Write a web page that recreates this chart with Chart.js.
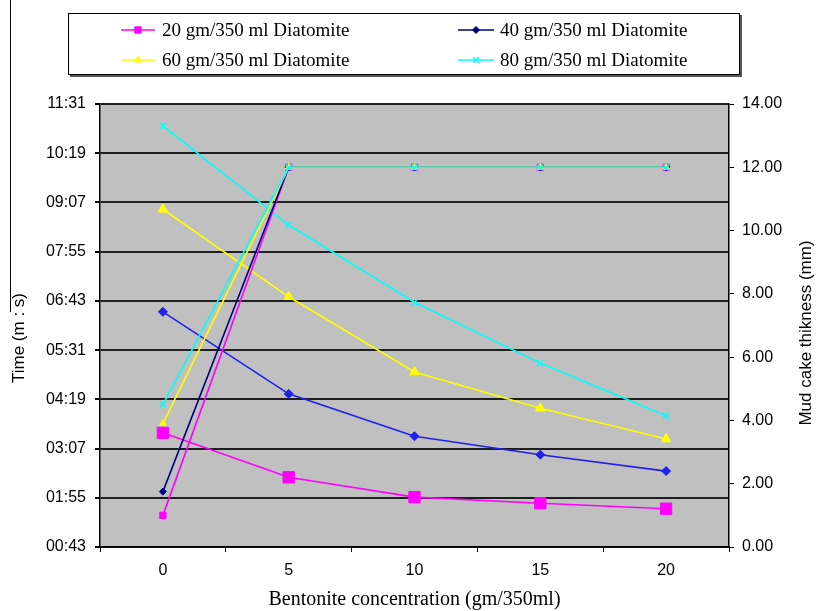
<!DOCTYPE html>
<html lang="en">
<head>
  <meta charset="UTF-8" />
  <title>Filtration time and mud cake thickness</title>
  <script src="https://cdn.jsdelivr.net/npm/chart.js"></script>
  <style>
    body { margin: 0; background: #ffffff; }
    #wrap { position: relative; width: 817px; height: 611px; }
  </style>
</head>
<body>
  <div id="wrap"><canvas id="chart" width="817" height="611"></canvas></div>

  <script>
    const concentrations = ['0', '5', '10', '15', '20'];
    const seriesNames = [
      '20 gm/350 ml Diatomite',
      '40 gm/350 ml Diatomite',
      '60 gm/350 ml Diatomite',
      '80 gm/350 ml Diatomite'
    ];

    // filtration time (m:s) - left axis
    const time20 = ['03:30', '02:25', '01:56', '01:47', '01:39'];
    const time40 = ['06:27', '04:27', '03:25', '02:58', '02:34'];
    const time60 = ['08:57', '06:49', '04:59', '04:06', '03:21'];
    const time80 = ['10:59', '08:34', '06:41', '05:12', '03:55'];

    // mud cake thickness (mm) - right axis
    const cake20 = [1.0, 12, 12, 12, 12];
    const cake40 = [1.75, 12, 12, 12, 12];
    const cake60 = [3.9, 12, 12, 12, 12];
    const cake80 = [4.5, 12, 12, 12, 12];

    const timeTicks = ['00:43', '01:55', '03:07', '04:19', '05:31', '06:43', '07:55', '09:07', '10:19', '11:31'];
    const cakeTicks = [0, 2, 4, 6, 8, 10, 12, 14];

    function toSec(s) {
      const p = s.split(':');
      return parseInt(p[0], 10) * 60 + parseInt(p[1], 10);
    }
    function toMinSec(v) {
      const m = Math.floor(v / 60), s = Math.round(v - m * 60);
      return String(m).padStart(2, '0') + ':' + String(s).padStart(2, '0');
    }

    const styles = [
      { color: '#ff00ff', timeColor: '#ff00ff', pointStyle: 'rect', timeRadius: 8, cakeRadius: 4.5 },
      { color: '#000080', timeColor: '#1f1fee', pointStyle: 'rectRot', timeRadius: 4.5, cakeRadius: 3.5 },
      { color: '#ffff00', timeColor: '#ffff00', pointStyle: 'triangle', timeRadius: 5.5, cakeRadius: 4 },
      { color: '#00ffff', timeColor: '#00ffff', pointStyle: 'crossRot', timeRadius: 4.5, cakeRadius: 4 }
    ];
    const timeSeries = [time20, time40, time60, time80];
    const cakeSeries = [cake20, cake40, cake60, cake80];

    const datasets = [];
    for (let i = 0; i < 4; i++) {
      const st = styles[i];
      datasets.push({
        label: seriesNames[i] + ' (time)',
        data: timeSeries[i].map(toSec),
        yAxisID: 'y',
        borderColor: st.timeColor,
        backgroundColor: st.timeColor,
        borderWidth: 1.6,
        pointStyle: st.pointStyle,
        pointRadius: st.timeRadius,
        pointBorderWidth: st.pointStyle === 'crossRot' ? 1.5 : 1,
        order: 10 - i
      });
      datasets.push({
        label: seriesNames[i],
        data: cakeSeries[i],
        yAxisID: 'y1',
        borderColor: st.color,
        backgroundColor: st.color,
        borderWidth: 1.6,
        pointStyle: st.pointStyle,
        pointRadius: st.cakeRadius,
        pointBorderWidth: st.pointStyle === 'crossRot' ? 1.5 : 1,
        order: 4 - i
      });
    }

    const plotBackground = {
      id: 'plotBackground',
      beforeDraw(chart) {
        const a = chart.chartArea, ctx = chart.ctx;
        ctx.save();
        ctx.fillStyle = '#c0c0c0';
        ctx.fillRect(a.left, a.top, a.right - a.left, a.bottom - a.top);
        ctx.restore();
      }
    };

    const overlay = {
      id: 'overlay',
      afterDraw(chart) {
        const ctx = chart.ctx;
        const a = chart.chartArea;
        ctx.save();

        // stray frame edge on the left of the picture
        ctx.strokeStyle = '#000';
        ctx.lineWidth = 1;
        ctx.beginPath();
        ctx.moveTo(10.5, 0);
        ctx.lineTo(10.5, 312);
        ctx.stroke();

        // legend box
        ctx.fillStyle = '#555';
        ctx.fillRect(70, 15, 672, 62);
        ctx.fillStyle = '#fff';
        ctx.fillRect(68, 13, 672, 62);
        ctx.strokeStyle = '#000';
        ctx.strokeRect(68.5, 13.5, 671, 61);

        const cols = [{ x1: 121, x2: 155, tx: 162 }, { x1: 458, x2: 494, tx: 500 }];
        const rows = [30, 60];
        ctx.font = '19px "Liberation Serif", serif';
        ctx.textBaseline = 'middle';
        ctx.textAlign = 'left';
        for (let i = 0; i < 4; i++) {
          const c = cols[i % 2], y = rows[Math.floor(i / 2)];
          const st = styles[i];
          ctx.strokeStyle = st.color;
          ctx.lineWidth = 1.6;
          ctx.beginPath();
          ctx.moveTo(c.x1, y);
          ctx.lineTo(c.x2, y);
          ctx.stroke();
          if (Chart.helpers && Chart.helpers.drawPoint) {
            ctx.fillStyle = st.color;
            ctx.strokeStyle = st.color;
            ctx.lineWidth = st.pointStyle === 'crossRot' ? 1.5 : 1;
            Chart.helpers.drawPoint(ctx, { pointStyle: st.pointStyle, radius: st.cakeRadius, rotation: 0, borderWidth: 1 }, (c.x1 + c.x2) / 2, y);
          }
          ctx.fillStyle = '#000';
          ctx.fillText(seriesNames[i], c.tx, y + 1);
        }

        // axis titles
        ctx.fillStyle = '#000';
        ctx.font = '17px "Liberation Sans", Arial, sans-serif';
        ctx.textAlign = 'center';
        ctx.textBaseline = 'middle';
        ctx.save();
        ctx.translate(19, 338);
        ctx.rotate(-Math.PI / 2);
        ctx.fillText('Time (m : s)', 0, 0);
        ctx.restore();

        ctx.save();
        ctx.translate(806, 333);
        ctx.rotate(-Math.PI / 2);
        ctx.fillText('Mud cake thikness (mm)', 0, 0);
        ctx.restore();

        ctx.font = '20px "Liberation Serif", serif';
        ctx.fillText('Bentonite concentration (gm/350ml)', (a.left + a.right) / 2, 600);

        ctx.restore();
      }
    };

    Chart.defaults.font.family = '"Liberation Sans", Arial, sans-serif';
    Chart.defaults.font.size = 16;
    Chart.defaults.color = '#000';

    new Chart(document.getElementById('chart').getContext('2d'), {
      type: 'line',
      data: { labels: concentrations, datasets: datasets },
      options: {
        responsive: false,
        animation: false,
        layout: { padding: { top: 104, left: 0, right: 0, bottom: 0 } },
        plugins: {
          legend: { display: false },
          tooltip: { enabled: false }
        },
        scales: {
          x: {
            offset: true,
            grid: { offset: true, drawOnChartArea: false, color: '#000', tickLength: 5 },
            border: { display: true, color: '#000', width: 1.5 },
            ticks: { padding: 9, maxRotation: 0 },
            afterFit(s) { s.height = 64; }
          },
          y: {
            position: 'left',
            min: toSec(timeTicks[0]),
            max: toSec(timeTicks[timeTicks.length - 1]),
            grid: { color: '#1e1e1e', lineWidth: 2, tickLength: 5, tickColor: '#000' },
            border: { display: true, color: '#000', width: 1.5 },
            ticks: {
              stepSize: toSec(timeTicks[1]) - toSec(timeTicks[0]),
              padding: 9,
              callback: v => toMinSec(v)
            },
            afterFit(s) { s.width = 100; }
          },
          y1: {
            position: 'right',
            min: cakeTicks[0],
            max: cakeTicks[cakeTicks.length - 1],
            grid: { drawOnChartArea: false, color: '#000', tickLength: 5 },
            border: { display: true, color: '#000', width: 1.5 },
            ticks: {
              stepSize: cakeTicks[1] - cakeTicks[0],
              padding: 8,
              callback: v => v.toFixed(2)
            },
            afterFit(s) { s.width = 88; }
          }
        }
      },
      plugins: [plotBackground, overlay]
    });
  </script>
</body>
</html>
